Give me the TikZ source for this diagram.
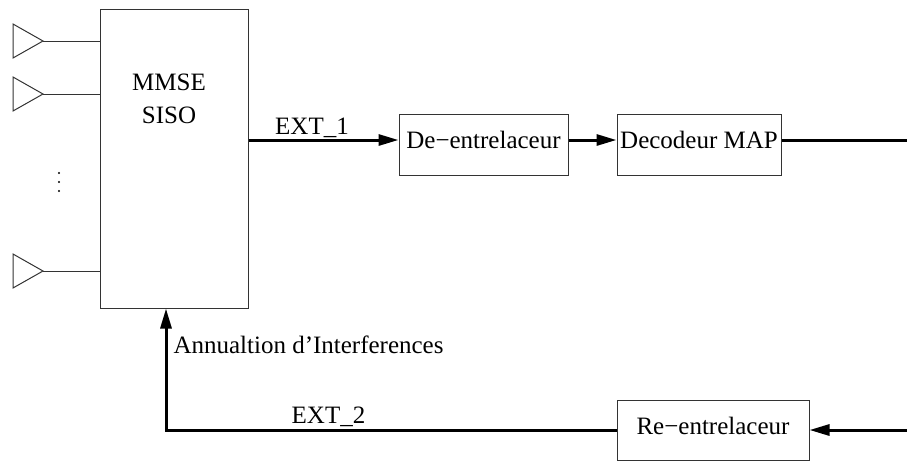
\documentclass[tikz,border=0pt]{standalone}
\usepackage{fontspec}
\setmainfont{Liberation Serif}
\usetikzlibrary{arrows.meta}

\tikzset{
  blk/.style={draw=black!80, line width=0.4pt, inner sep=0pt, text height=3.2pt, text depth=0pt},
  sig/.style={line width=1.2pt},
  lbl/.style={inner sep=0pt, anchor=base},
}

\begin{document}
\begin{tikzpicture}[x=0.4pt, y=-0.4pt, >={Triangle[length=8pt,width=4.4pt]},
  font=\fontsize{10}{12}\selectfont]
  \useasboundingbox (0,0) rectangle (907,462);

  % Blocks
  \node[blk, minimum width=58.8pt, minimum height=119.6pt] (mmse) at (174.5,158.5) {};
  \node[lbl] (mmse1) at (169,90) {MMSE};
  \node[lbl] (mmse2) at (169,123) {SISO};
  \node[blk, minimum width=67.6pt, minimum height=24.4pt] (de) at (483.5,144.5) {De−entrelaceur};
  \node[blk, minimum width=65.6pt, minimum height=24.4pt] (dec) at (699,144.5) {Decodeur MAP};
  \node[blk, minimum width=76.8pt, minimum height=24pt] (re) at (713,430) {Re−entrelaceur};

  % Antennas
  \foreach \y/\n in {41/1,94/2,271/3} {
    \draw[black!80, line width=0.4pt] (13,\y-17) -- (43,\y) coordinate (ant\n) -- (13,\y+17) -- cycle;
    \draw[black!80, line width=0.4pt] (ant\n) -- (ant\n -| mmse.west);
  }
  % vertical dots
  \foreach \y in {173,182,191}
    \fill (59,\y) circle (1.1);

  % Forward path
  \coordinate (l1) at (0,140);
  \coordinate (out1) at (907,140);
  \draw[sig,->] (l1 -| mmse.east) -- (l1 -| de.west);
  \draw[sig,->] (l1 -| de.east) -- (l1 -| dec.west);
  \draw[sig] (l1 -| dec.east) -- (out1);
  \node[lbl] (ext1) at (312,134) {EXT\_1};

  % Feedback path
  \coordinate (in2) at (907,430);
  \coordinate (fb) at (166,430);
  \draw[sig,->] (in2) -- (re.east);
  \draw[sig,->] (re.west) -- (fb) -- (fb |- mmse.south);
  \node[lbl] (ext2) at (328.5,423) {EXT\_2};
  \node[lbl, anchor=base west] (ann) at (173,353) {Annualtion d'Interferences};
\end{tikzpicture}
\end{document}
